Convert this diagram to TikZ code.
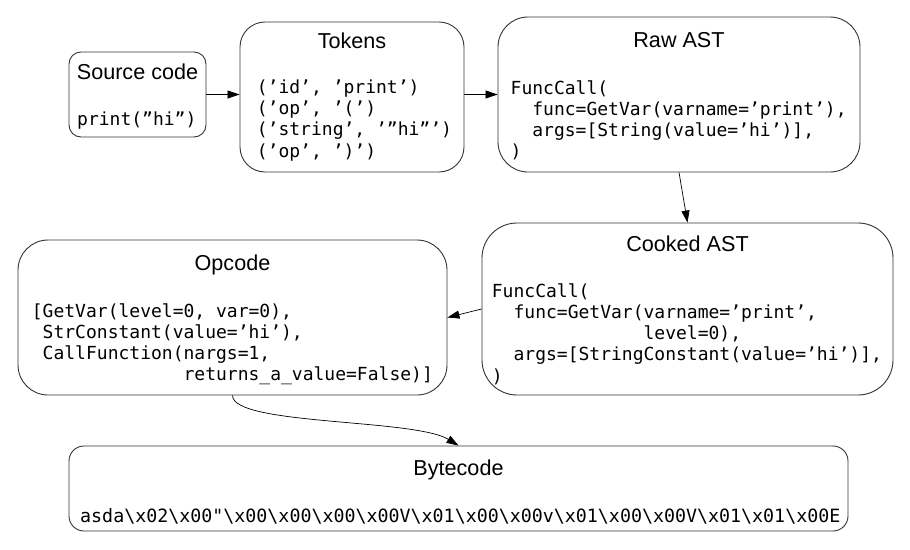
\documentclass[tikz,border=0pt]{standalone}
\usepackage{fontspec}
\setmainfont{Liberation Sans}
\setmonofont{DejaVu Sans Mono}
\usetikzlibrary{arrows.meta}
\newcommand\bsl{\textbackslash{}}
\newcommand\codebox[1]{\vtop{\setlength\baselineskip{21.2pt}#1}}
\tikzset{
  box/.style={draw=black!80, line width=0.9pt, fill=white, inner sep=0pt},
  title/.style={font=\fontsize{21.6}{25}\selectfont, anchor=base, inner sep=0pt},
  code/.style={font=\ttfamily\fontsize{18}{21.2}\selectfont, anchor=base west, inner sep=0pt},
  conn/.style={draw=black, line width=0.7pt, -{Triangle[length=12pt,width=8pt]}},
}
\begin{document}
\begin{tikzpicture}[x=1pt,y=-1pt]
\useasboundingbox (0,0) rectangle (910,549);
% boxes
\node[box, minimum width=137pt, minimum height=85pt, rounded corners=12pt] (src) at (137.5,94.5) {};
\node[box, minimum width=224pt, minimum height=150pt, rounded corners=25pt] (tok) at (352,97) {};
\node[box, minimum width=362pt, minimum height=155pt, rounded corners=30pt] (raw) at (679,94.5) {};
\node[box, minimum width=411pt, minimum height=172pt, rounded corners=35pt] (cook) at (687.5,309) {};
\node[box, minimum width=429pt, minimum height=155pt, rounded corners=30pt] (opc) at (232.5,317.5) {};
\node[box, minimum width=779pt, minimum height=85pt, rounded corners=15pt] (byte) at (458.5,488.5) {};
% titles
\node[title] (srct) at (137.5,79) {Source code};
\node[title] (tokt) at (352,48) {Tokens};
\node[title] (rawt) at (679,47.5) {Raw AST};
\node[title] (cookt) at (687.5,251.5) {Cooked AST};
\node[title] (opct) at (232.5,270) {Opcode};
\node[title] (bytet) at (458.5,475) {Bytecode};
% code
\node[code] (srcc) at (77,125) {print(”hi”)};
\node[code] (tokc) at (256.7,93.5) {\codebox{%
  \hbox{(’id’, ’print’)}%
  \hbox{(’op’, ’(’)}%
  \hbox{(’string’, ’”hi”’)}%
  \hbox{(’op’, ’)’)}}};
\node[code] (rawc) at (510.5,94) {\codebox{%
  \hbox{FuncCall(}%
  \hbox{\hphantom{xx}func=GetVar(varname=’print’),}%
  \hbox{\hphantom{xx}args=[String(value=’hi’)],}%
  \hbox{)}}};
\node[code] (cookc) at (491.7,297.3) {\codebox{%
  \hbox{FuncCall(}%
  \hbox{\hphantom{xx}func=GetVar(varname=’print’,}%
  \hbox{\hphantom{xxxxxxxxxxxxxx}level=0),}%
  \hbox{\hphantom{xx}args=[StringConstant(value=’hi’)],}%
  \hbox{)}}};
\node[code] (opcc) at (31.7,317) {\codebox{%
  \hbox{[GetVar(level=0, var=0),}%
  \hbox{\hphantom{x}StrConstant(value=’hi’),}%
  \hbox{\hphantom{x}CallFunction(nargs=1,}%
  \hbox{\hphantom{xxxxxxxxxxxxxx}returns\_a\_value=False)]}}};
\node[code, font=\ttfamily\fontsize{18.3}{22}\selectfont] (bytec) at (80,522) {asda\bsl x02\bsl x00"\bsl x00\bsl x00\bsl x00\bsl x00V\bsl x01\bsl x00\bsl x00v\bsl x01\bsl x00\bsl x00V\bsl x01\bsl x01\bsl x00E};
% connectors
\draw[conn] (src.east) -- (src.east -| tok.west);
\draw[conn] (raw.west -| tok.east) -- (raw.west);
\draw[conn] (raw.south) -- (cook.north);
\draw[conn] (cook.west) -- (opc.east);
\draw[conn] (opc.south) .. controls +(0,30) and +(-44,-27) .. (byte.north);
\end{tikzpicture}
\end{document}
